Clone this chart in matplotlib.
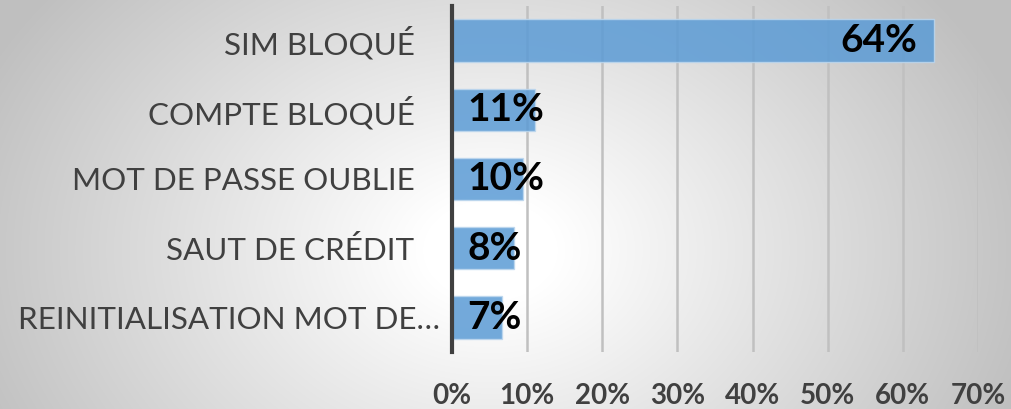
import numpy as np
import matplotlib
matplotlib.use("Agg")
import matplotlib.pyplot as plt
import matplotlib.transforms as mtransforms

# données
categories = ["SIM BLOQUÉ", "COMPTE BLOQUÉ", "MOT DE PASSE OUBLIE",
              "SAUT DE CRÉDIT", "REINITIALISATION MOT DE…"]
values = [64.1, 11.0, 9.4, 8.2, 6.6]
value_labels = ["64%", "11%", "10%", "8%", "7%"]
xticks = [0, 10, 20, 30, 40, 50, 60, 70]
xtick_labels = ["0%", "10%", "20%", "30%", "40%", "50%", "60%", "70%"]

plt.rcParams['font.family'] = ['Lato', 'DejaVu Sans']

W, H = 1012, 409
fig = plt.figure(figsize=(W / 100, H / 100), dpi=100)

# fond en dégradé radial (blanc au centre, gris sur les bords)
bg = fig.add_axes([0, 0, 1, 1], zorder=-1)
yy, xx = np.mgrid[0:H, 0:W]
d = np.sqrt(((xx - 490) / 560.0) ** 2 + ((yy - 250) / 420.0) ** 2)
g = 1.0 - 0.25 * np.clip((d - 0.12) / 0.88, 0, 1)
bg.imshow(np.dstack([g, g, g]), aspect='auto', extent=[0, 1, 0, 1])
bg.axis('off')

ax = fig.add_axes([452 / W, (H - 352) / H, (978 - 452) / W, 346 / H])
ax.patch.set_alpha(0)

y = np.arange(len(categories))
ax.barh(y, values, height=0.61, color='#5b9bd5', alpha=0.85,
        edgecolor='#bdd7ee', linewidth=1, zorder=3)

ax.set_xlim(0, 70)
ax.set_ylim(len(categories) - 0.5, -0.5)
ax.set_xticks(xticks)
ax.set_xticklabels(xtick_labels, fontsize=20, fontweight='bold', color='#404040')
ax.set_yticks(y)
ax.set_yticklabels(categories, fontsize=22.6, color='#404040')
ax.tick_params(axis='both', length=0)
ax.tick_params(axis='y', pad=27)
ax.tick_params(axis='x', pad=22)

# dernier libellé tronqué : décalé vers la droite
last = ax.get_yticklabels()[-1]
last.set_transform(last.get_transform() +
                   mtransforms.ScaledTranslation(26 / 100, 0, fig.dpi_scale_trans))

ax.grid(axis='x', color='#c0c0c0', linewidth=1.8, zorder=1)
for s in ['top', 'right', 'bottom']:
    ax.spines[s].set_visible(False)
ax.spines['left'].set_color('#404040')
ax.spines['left'].set_linewidth(3)
ax.spines['left'].set_zorder(4)

for i, (v, lab) in enumerate(zip(values, value_labels)):
    if v > 20:
        ax.annotate(lab, (v, i), xytext=(-12, 0), textcoords='offset points',
                    ha='right', va='center', fontsize=28, fontweight='bold',
                    color='black', zorder=5)
    else:
        ax.annotate(lab, (0, i), xytext=(11, 0), textcoords='offset points',
                    ha='left', va='center', fontsize=28, fontweight='bold',
                    color='black', zorder=5)

fig.savefig("out.png", dpi=100)
